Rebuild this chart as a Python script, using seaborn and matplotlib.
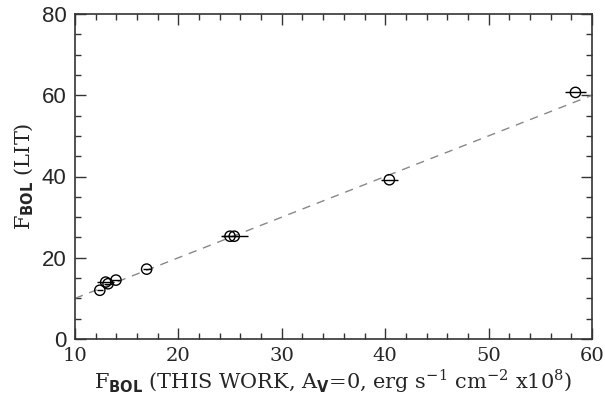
import numpy as np
import pandas as pd
import matplotlib
matplotlib.use("Agg")
import matplotlib.pyplot as plt
import seaborn as sns
from matplotlib.ticker import MultipleLocator

# Data
f_this = [12.4, 12.97, 13.2, 13.96, 16.93, 24.99, 25.4, 40.4, 58.4]
f_lit = [12.0, 14.0, 13.6, 14.5, 17.2, 25.3, 25.3, 39.2, 60.7]
f_this_err = [0.3, 0.85, 0.4, 0.4, 0.4, 0.8, 1.3, 0.8, 1.0]
line_x = [10, 60]
line_y = [10, 60]
x_ticks = [10, 20, 30, 40, 50, 60]
y_ticks = [0, 20, 40, 60, 80]

sns.set_style("ticks")
plt.rcParams['mathtext.fontset'] = 'custom'
plt.rcParams['mathtext.rm'] = 'DejaVu Serif'
plt.rcParams['mathtext.bf'] = 'DejaVu Sans:bold'

fig = plt.figure(figsize=(6.05, 4.05), dpi=100)
ax = fig.add_axes([75/605, 1-339/405, (592-75)/605, (339-14)/405])

df = pd.DataFrame({"x": f_this, "y": f_lit, "xerr": f_this_err})

sns.lineplot(x=line_x, y=line_y, ax=ax, color="#888888", linestyle=(0, (6, 5)),
             linewidth=1.0, zorder=1)
ax.errorbar(df["x"], df["y"], xerr=df["xerr"], fmt="none", ecolor="black",
            elinewidth=1.0, capsize=0, zorder=2)
sns.scatterplot(data=df, x="x", y="y", ax=ax, marker="o", s=55,
                facecolors="none", edgecolor="black", linewidth=1.0, zorder=3)

ax.set_xlim(10, 60)
ax.set_ylim(0, 80)
ax.set_xticks(x_ticks)
ax.set_yticks(y_ticks)
ax.xaxis.set_minor_locator(MultipleLocator(2))
ax.yaxis.set_minor_locator(MultipleLocator(5))
ax.tick_params(which="both", direction="in", top=True, right=True,
               color="#333333", width=1.0)
ax.tick_params(which="major", length=8, pad=6)
ax.tick_params(which="minor", length=4)
for lab in ax.get_xticklabels():
    lab.set_fontfamily("DejaVu Serif")
    lab.set_fontsize(14)
for lab in ax.get_yticklabels():
    lab.set_fontfamily("Liberation Sans")
    lab.set_fontsize(16)
for s in ax.spines.values():
    s.set_color("#333333")
    s.set_linewidth(1.2)

ax.set_xlabel(r"F$_{\mathbf{BOL}}$ (THIS WORK, A$_{\mathbf{V}}$=0, erg s$^{-1}$ cm$^{-2}$ x10$^{8}$)",
              fontfamily="DejaVu Serif", fontsize=15, labelpad=1)
ax.set_ylabel(r"F$_{\mathbf{BOL}}$ (LIT)", fontfamily="DejaVu Serif",
              fontsize=15, labelpad=4)

fig.savefig("out.png", dpi=100)
